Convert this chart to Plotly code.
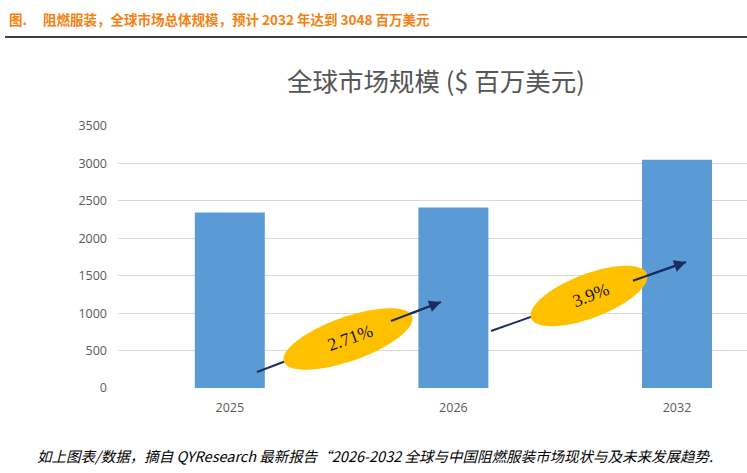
import numpy as np
import plotly.graph_objects as go

# ---- data ----
years = ["2025", "2026", "2032"]
market_size = [2346, 2412, 3048]
y_ticks = [0, 500, 1000, 1500, 2000, 2500, 3000, 3500]
cagr_labels = ["2.71%", "3.9%"]

W, H = 747, 473
L, R, T, B = 118, 0, 126, 85
pw, ph = W - L - R, H - T - B
xr = [-0.5, 2.313]
yr = [0, 3500]

def px2x(px):
    return xr[0] + (px - L) / pw * (xr[1] - xr[0])

def py2y(py):
    return yr[0] + (T + ph - py) / ph * (yr[1] - yr[0])

def ppx(px):
    return (px - L) / pw

def ppy(py):
    return (T + ph - py) / ph

fig = go.Figure()
fig.add_trace(go.Bar(x=list(range(len(years))), y=market_size, width=0.313,
                     marker=dict(color="#5b9bd5", line=dict(width=0)),
                     hoverinfo="skip"))

shapes = []
annotations = []

# arrows (line part) + ellipses + arrowheads
arrows = [((257, 372), (441, 302)), ((491, 331), (686, 262))]
ellipses = [((348, 339), 68, 22, 19.5), ((589, 296), 62, 22, 21.0)]

for (s, e), (c, a, b, ang), lab in zip(arrows, ellipses, cagr_labels):
    shapes.append(dict(type="line", xref="x", yref="y",
                       x0=px2x(s[0]), y0=py2y(s[1]), x1=px2x(e[0]), y1=py2y(e[1]),
                       line=dict(color="#1c2c5e", width=2), layer="above"))
    t = np.linspace(0, 2 * np.pi, 73)
    th = np.deg2rad(ang)
    ex = c[0] + a * np.cos(t) * np.cos(th) + b * np.sin(t) * np.sin(th)
    ey = c[1] - a * np.cos(t) * np.sin(th) + b * np.sin(t) * np.cos(th)
    path = "M " + " L ".join(f"{px2x(xx):.5f},{py2y(yy):.3f}" for xx, yy in zip(ex, ey)) + " Z"
    shapes.append(dict(type="path", xref="x", yref="y", path=path,
                       fillcolor="#ffc000", line=dict(width=0), layer="above"))
    # arrowhead segment outside ellipse
    frac = 0.72
    sx = s[0] + (e[0] - s[0]) * frac
    sy = s[1] + (e[1] - s[1]) * frac
    annotations.append(dict(x=px2x(e[0]), y=py2y(e[1]), xref="x", yref="y",
                            ax=px2x(sx), ay=py2y(sy), axref="x", ayref="y",
                            text="", showarrow=True, arrowhead=2, arrowsize=1.2,
                            arrowwidth=2, arrowcolor="#1c2c5e"))
    annotations.append(dict(x=px2x(c[0] + 2), y=py2y(c[1] - 1), xref="x", yref="y",
                            xanchor="center", yanchor="middle",
                            text=lab, showarrow=False, textangle=-ang,
                            font=dict(family="Liberation Serif", size=18, color="#1a1a1a")))

# chart title
annotations.append(dict(x=ppx(436), y=ppy(79), xref="paper", yref="paper",
                        xanchor="center", yanchor="middle",
                        text="全球市场规模 ($ 百万美元)", showarrow=False,
                        font=dict(family="Noto Sans CJK SC", size=25.5, color="#555555")))
# header
annotations.append(dict(x=ppx(7), y=ppy(19), xref="paper", yref="paper",
                        xanchor="left", yanchor="middle",
                        text="<b>图.</b>", showarrow=False,
                        font=dict(family="Noto Sans CJK SC", size=13.5, color="#f5800f")))
annotations.append(dict(x=ppx(41), y=ppy(19), xref="paper", yref="paper",
                        xanchor="left", yanchor="middle",
                        text="<b>阻燃服装，全球市场总体规模，预计 2032 年达到 3048 百万美元</b>",
                        showarrow=False,
                        font=dict(family="Noto Sans CJK SC", size=13.5, color="#f5800f")))
shapes.append(dict(type="line", xref="paper", yref="paper",
                   x0=ppx(5), x1=ppx(747), y0=ppy(37), y1=ppy(37),
                   line=dict(color="#000000", width=1.5)))
# footer
annotations.append(dict(x=ppx(35), y=ppy(455), xref="paper", yref="paper",
                        xanchor="left", yanchor="middle",
                        text="<i>如上图表/数据，摘自 QYResearch 最新报告“2026-2032 全球与中国阻燃服装市场现状与及未来发展趋势.</i>",
                        showarrow=False,
                        font=dict(family="Noto Sans CJK SC", size=14.5, color="#000000")))

fig.update_layout(
    width=W, height=H,
    margin=dict(l=L, r=R, t=T, b=B, pad=0),
    paper_bgcolor="white", plot_bgcolor="white",
    showlegend=False,
    shapes=shapes, annotations=annotations,
    xaxis=dict(range=xr, tickmode="array", tickvals=list(range(len(years))), ticktext=years,
               showgrid=False, zeroline=False, showline=False, ticks="",
               tickfont=dict(family="Open Sans", size=12.5, color="#595959"), ticklabelstandoff=10),
    yaxis=dict(range=yr, tickmode="array", tickvals=y_ticks,
               showgrid=True, gridcolor="#d9d9d9", gridwidth=1.3, zeroline=False,
               showline=False, ticks="",
               tickfont=dict(family="Open Sans", size=12.5, color="#595959"), ticklabelstandoff=10),
    font=dict(family="Open Sans"),
)
fig.write_html("out.html")
